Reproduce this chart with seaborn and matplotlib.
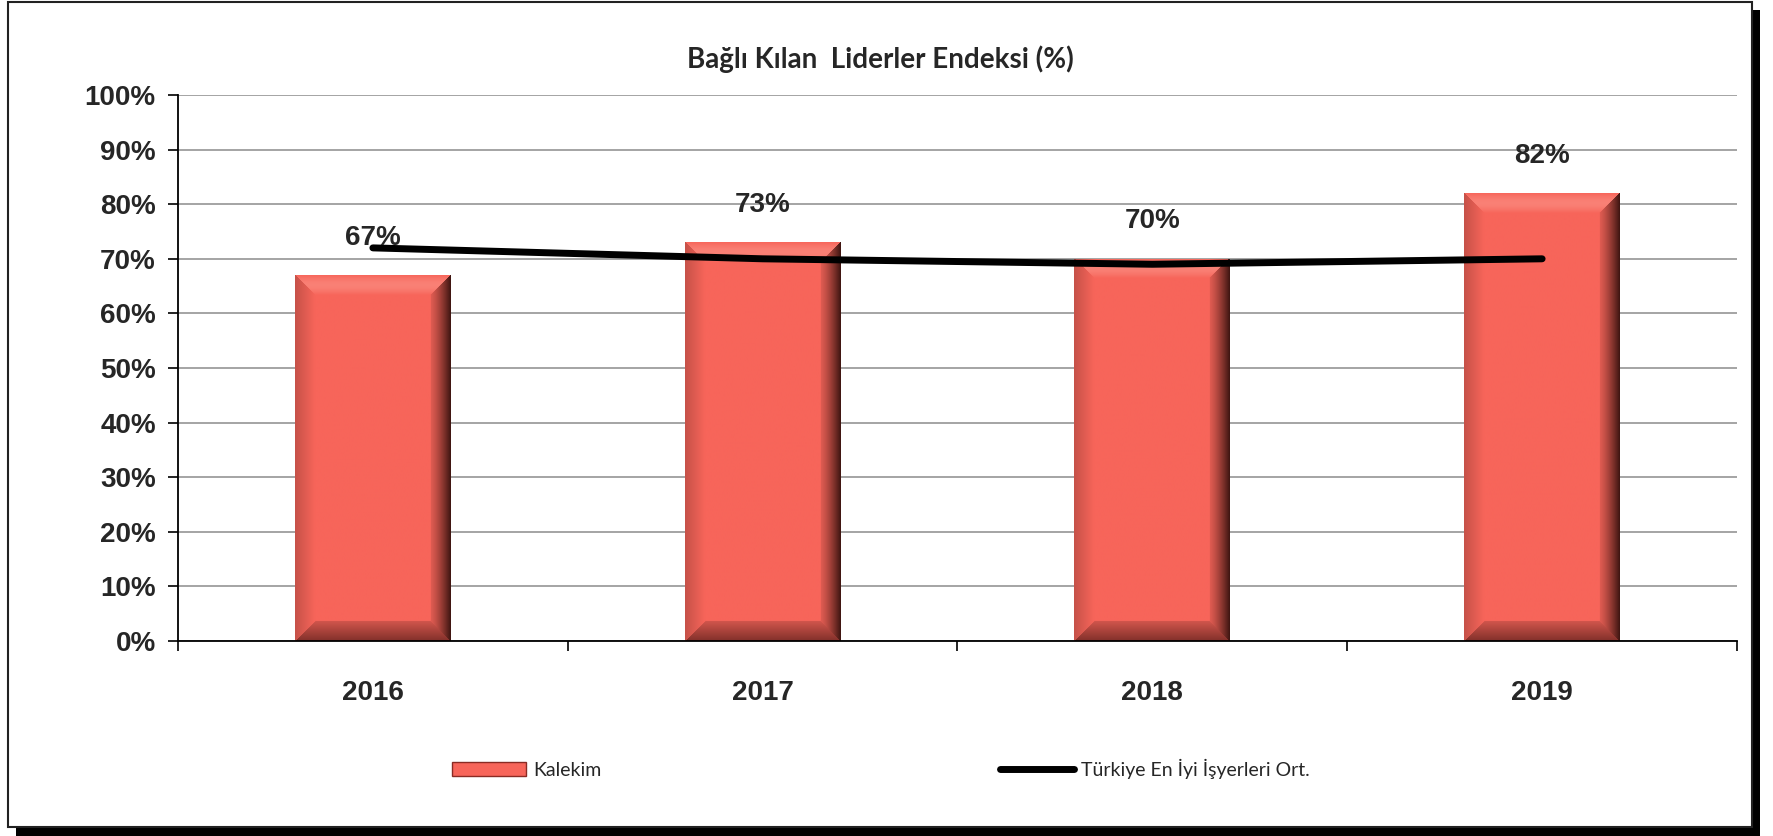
import numpy as np
import pandas as pd
import seaborn as sns
import matplotlib.pyplot as plt
from matplotlib.patches import Rectangle
from matplotlib.lines import Line2D
from matplotlib.ticker import FuncFormatter, FixedLocator

years = ["2016", "2017", "2018", "2019"]
kalekim = [67, 73, 70, 82]
turkiye_ort = [72, 70, 69, 70]
kalekim_labels = ["67%", "73%", "70%", "82%"]

title = "Bağlı Kılan  Liderler Endeksi (%)"
bar_name = "Kalekim"
line_name = "Türkiye En İyi İşyerleri Ort."

sns.set_theme(style="white")
plt.rcParams['font.family'] = ['Liberation Sans', 'DejaVu Sans']

W, H = 1774, 836
fig = plt.figure(figsize=(W / 100, H / 100), dpi=100)
fig.patch.set_facecolor("white")

# frame with black drop shadow (behind the axes)
fig.patches.append(Rectangle((16 / W, 0), 1744 / W, 826 / H, transform=fig.transFigure,
                             facecolor="black", edgecolor="none", zorder=-2))
fig.patches.append(Rectangle((8 / W, 9 / H), 1744 / W, 825 / H, transform=fig.transFigure,
                             facecolor="white", edgecolor="#222222", linewidth=1.5, zorder=-1))

ax = fig.add_axes([178 / W, 1 - 641 / H, 1559 / W, 546 / H])
ax.set_facecolor("none")

df = pd.DataFrame({"year": years, "val": kalekim})
sns.barplot(data=df, x="year", y="val", color="#F7655A", saturation=1, width=0.4,
            edgecolor="none", ax=ax, zorder=2)
ax.set_xlim(-0.5, 3.5)
ax.set_ylim(0, 100)


def bevel(nx, ny, bev=20):
    base = np.array([247, 101, 90]) / 255
    light = np.array([250, 135, 124]) / 255
    dark = np.array([60, 20, 16]) / 255
    bot = np.array([130, 48, 42]) / 255
    x = np.arange(nx) + 0.5
    y = np.arange(ny) + 0.5
    X, Y = np.meshgrid(x, y)
    d = np.stack([X, nx - X, Y, ny - Y])
    side = d.argmin(axis=0)
    dm = d.min(axis=0)
    t = np.clip(1 - dm / bev, 0, 1)[..., None]
    img = np.tile(base, (ny, nx, 1))
    inb = (dm < bev)[..., None]
    left = base * (1 - 0.2 * t)
    right = base * 0.9 * (1 - t ** 1.3) + dark * t ** 1.3
    top = base * (1 - np.sin(np.pi * t) * 0.8) + light * np.sin(np.pi * t) * 0.8
    bottom = base * 0.85 * (1 - t) + bot * t
    for k, c in enumerate([left, right, top, bottom]):
        img = np.where(inb & (side == k)[..., None], c, img)
    return np.clip(img, 0, 1)


for p in list(ax.patches):
    x0, y0 = p.get_x(), p.get_y()
    w, h = p.get_width(), p.get_height()
    (px0, py0), (px1, py1) = ax.transData.transform([(x0, y0), (x0 + w, y0 + h)])
    img = bevel(int(px1 - px0), int(py1 - py0))
    im = ax.imshow(img, extent=(x0, x0 + w, y0, y0 + h), aspect="auto",
                   interpolation="bilinear", zorder=2.5)
    im.set_clip_path(p)

ax.set_xlim(-0.5, 3.5)
ax.set_ylim(0, 100)

sns.lineplot(x=np.arange(len(years)), y=turkiye_ort, color="black", linewidth=5,
             ax=ax, zorder=4, solid_capstyle="round", legend=False)

for i, v in enumerate(kalekim):
    ax.annotate(kalekim_labels[i], (i, v), xytext=(0, 27), textcoords="offset points",
                ha="center", va="center", fontsize=20, fontweight="bold", zorder=5)

ax.yaxis.set_major_locator(FixedLocator(np.arange(0, 101, 10)))
ax.yaxis.set_major_formatter(FuncFormatter(lambda v, _: f"{v:.0f}%"))
ax.grid(axis="y", color="#8c8c8c", linewidth=1.1, zorder=1)
ax.grid(axis="x", visible=False)
ax.set_axisbelow(True)
for s in ["top", "right"]:
    ax.spines[s].set_visible(False)
for s in ["left", "bottom"]:
    ax.spines[s].set_color("black")
    ax.spines[s].set_linewidth(1.3)
    ax.spines[s].set_zorder(3)

ax.tick_params(axis="y", which="major", direction="out", length=7, width=1.2,
               color="black", pad=9, labelsize=20, left=True)
ax.set_xticks(range(len(years)), years)
ax.tick_params(axis="x", which="major", length=0, pad=28, labelsize=20)
ax.set_xticks(np.arange(-0.5, len(years), 1), minor=True)
ax.tick_params(axis="x", which="minor", direction="out", length=7, width=1.2,
               color="black", bottom=True)
for lab in ax.get_xticklabels() + ax.get_yticklabels():
    lab.set_fontweight("bold")
ax.set_xlabel("")
ax.set_ylabel("")

fig.text(880 / W, 1 - 59 / H, title, ha="center", va="center", fontsize=20,
         fontweight="bold", family=["Lato", "DejaVu Sans"])

handles = [Rectangle((0, 0), 1, 1, facecolor="#F7655A", edgecolor="#8a2b24", linewidth=1),
           Line2D([], [], color="black", linewidth=5, solid_capstyle="round")]
fig.legend(handles, [bar_name, line_name], loc="center", bbox_to_anchor=(881 / W, 1 - 769 / H),
           ncol=2, frameon=False, handlelength=3.8, handletextpad=0.35, columnspacing=20.5,
           prop={"family": ["Lato", "DejaVu Sans"], "size": 14})

fig.savefig("out.png", dpi=100, facecolor="white")
